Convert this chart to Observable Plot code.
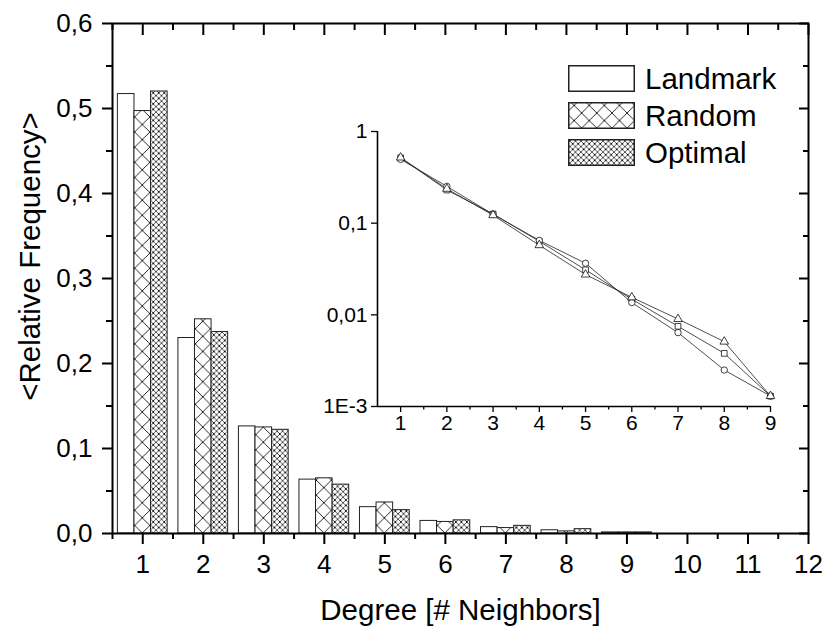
<!DOCTYPE html>
<html>
<head>
<meta charset="utf-8">
<script src="https://cdn.jsdelivr.net/npm/d3@7"></script>
<script src="https://cdn.jsdelivr.net/npm/@observablehq/plot@0.6"></script>
<style>
  html, body { margin: 0; padding: 0; background: #fff; }
  #wrap { position: relative; width: 826px; height: 629px; font-family: "Liberation Sans", Arial, sans-serif; color: #000; }
  #inset { position: absolute; left: 316px; top: 121px; }
  #legend { position: absolute; left: 568px; top: 60px; }
  .lg-row { display: flex; align-items: center; height: 37px; }
  .lg-row svg { display: block; }
  .lg-row span { margin-left: 10px; font-size: 29.5px; line-height: 30px; }
</style>
</head>
<body>
<div id="wrap"></div>
<script>
// ---- data ----
const degrees = [1, 2, 3, 4, 5, 6, 7, 8, 9];
const landmark = [0.517, 0.230, 0.126, 0.0634, 0.031, 0.0148, 0.0075, 0.0038, 0.0013];
const random   = [0.497, 0.252, 0.1248, 0.0649, 0.0365, 0.0136, 0.0064, 0.0025, 0.0013];
const optimal  = [0.520, 0.237, 0.122, 0.0575, 0.0275, 0.0155, 0.0090, 0.0051, 0.0013];
const seriesNames = ["Landmark", "Random", "Optimal"];
const xTicks = [1, 2, 3, 4, 5, 6, 7, 8, 9, 10, 11, 12];
const xMinorTicks = [0.5, 1.5, 2.5, 3.5, 4.5, 5.5, 6.5, 7.5, 8.5, 9.5, 10.5, 11.5];
const yTicks = [0, 0.1, 0.2, 0.3, 0.4, 0.5, 0.6];
const yMinorTicks = [0.05, 0.15, 0.25, 0.35, 0.45, 0.55];
const insetXTicks = [1, 2, 3, 4, 5, 6, 7, 8, 9];
const insetXMinor = [1.5, 2.5, 3.5, 4.5, 5.5, 6.5, 7.5, 8.5];
const insetYTicks = [1, 0.1, 0.01, 0.001];
const insetYLabels = ["1", "0,1", "0,01", "1E-3"];
const xLabel = "Degree [# Neighbors]";
const yLabel = "<Relative Frequency>";

// ---- derived table ----
const values = [landmark, random, optimal];
const rows = seriesNames.flatMap((s, k) => degrees.map((d, i) => ({degree: d, value: values[k][i], series: s, k})));
const barWidth = 0.274;
const fills = {Landmark: "white", Random: "url(#pat-random)", Optimal: "url(#pat-optimal)"};
const symbols = {Landmark: "square", Random: "circle", Optimal: "triangle"};
const font = "Liberation Sans, Arial, sans-serif";
const fmt1 = d => d.toFixed(1).replace(".", ",");

const wrap = document.getElementById("wrap");

const bars = seriesNames.map((s, k) => Plot.rectY(rows.filter(r => r.series === s), {
  x1: d => d.degree + (d.k - 1.5) * barWidth,
  x2: d => d.degree + (d.k - 0.5) * barWidth,
  y: "value",
  fill: fills[s],
  stroke: "#222",
  strokeWidth: 1
}));

const main = Plot.plot({
  width: 826, height: 629,
  marginLeft: 112, marginRight: 18, marginTop: 23, marginBottom: 96,
  x: {domain: [0.5, 12]},
  y: {domain: [0, 0.6]},
  style: {fontFamily: font, fontSize: "26px", color: "#000", background: "#fff", overflow: "visible"},
  marks: [
    ...bars,
    Plot.axisX(xTicks, {anchor: "bottom", tickSize: 11, tickPadding: 10, strokeWidth: 2, tickFormat: d => String(d), fontSize: 26, label: null}),
    Plot.axisX(xMinorTicks, {anchor: "bottom", tickSize: 6, strokeWidth: 2, fill: "none", label: null}),
    Plot.axisX(xTicks, {anchor: "top", tickSize: 11, dy: 11, strokeWidth: 2, fill: "none", label: null}),
    Plot.axisX(xMinorTicks, {anchor: "top", tickSize: 6, dy: 6, strokeWidth: 2, fill: "none", label: null}),
    Plot.axisY(yTicks, {anchor: "left", tickSize: 10, tickPadding: 10, strokeWidth: 2, tickFormat: fmt1, fontSize: 26, label: null}),
    Plot.axisY(yMinorTicks, {anchor: "left", tickSize: 6, strokeWidth: 2, fill: "none", label: null}),
    Plot.axisY(yTicks, {anchor: "right", tickSize: 10, dx: -10, strokeWidth: 2, fill: "none", label: null}),
    Plot.axisY(yMinorTicks, {anchor: "right", tickSize: 6, dx: -6, strokeWidth: 2, fill: "none", label: null}),
    Plot.frame({stroke: "#000", strokeWidth: 2}),
    Plot.text([xLabel], {frameAnchor: "bottom", dy: 86, fontSize: 29.5, text: d => d, fill: "#000"}),
    Plot.text([yLabel], {frameAnchor: "left", textAnchor: "middle", dx: -82, dy: -22, rotate: -90, fontSize: 29.5, text: d => d, fill: "#000"})
  ]
});
wrap.appendChild(main);

// ---- hatch patterns aligned to the bar groups ----
const xs = main.scale("x");
const ys = main.scale("y");
const px1 = xs.apply(1), pxStep = xs.apply(2) - xs.apply(1);
const dR = pxStep / 4, dO = pxStep / 11;
const y0 = ys.apply(0);
const defs = d3.select(main).insert("defs", ":first-child");
function hatch(id, d, sw, dots) {
  const p = defs.append("pattern").attr("id", id).attr("patternUnits", "userSpaceOnUse")
    .attr("x", px1 - d / 2).attr("y", y0 - d / 2).attr("width", d).attr("height", d);
  p.append("rect").attr("width", d).attr("height", d).attr("fill", "#fff");
  p.append("path").attr("d", `M0,0L${d},${d}M${d},0L0,${d}`).attr("stroke", "#111").attr("stroke-width", sw).attr("fill", "none");
  if (dots) p.append("circle").attr("cx", d / 2).attr("cy", d / 2).attr("r", dots).attr("fill", "#000");
}
hatch("pat-random", dR, 0.9, 0);
hatch("pat-optimal", dO, 0.7, 0.9);

// ---- legend ----
const legend = document.createElement("div");
legend.id = "legend";
seriesNames.forEach(s => {
  const row = document.createElement("div");
  row.className = "lg-row";
  const sw = d3.create("svg").attr("width", 67).attr("height", 27);
  sw.append("rect").attr("x", 0.75).attr("y", 0.75).attr("width", 65.5).attr("height", 25.5)
    .attr("fill", fills[s]).attr("stroke", "#222").attr("stroke-width", 1.5);
  row.appendChild(sw.node());
  const t = document.createElement("span");
  t.textContent = s;
  row.appendChild(t);
  legend.appendChild(row);
});
wrap.appendChild(legend);

// ---- inset (log scale) ----
const inset = Plot.plot({
  width: 470, height: 316,
  marginLeft: 61, marginRight: 16, marginTop: 10, marginBottom: 31,
  x: {domain: [0.5, 9]},
  y: {type: "log", domain: [0.001, 1]},
  style: {fontFamily: font, fontSize: "21px", color: "#000", background: "transparent", overflow: "visible"},
  marks: [
    Plot.axisX(insetXTicks, {anchor: "bottom", tickSize: 6, tickPadding: 3, strokeWidth: 1.3, tickFormat: d => String(d), fontSize: 21, label: null}),
    Plot.axisX(insetXMinor, {anchor: "bottom", tickSize: 3.5, strokeWidth: 1.3, fill: "none", label: null}),
    Plot.axisY(insetYTicks, {anchor: "left", tickSize: 6, tickPadding: 4, strokeWidth: 1.3, tickFormat: d => insetYLabels[insetYTicks.indexOf(d)], fontSize: 21, label: null}),
    Plot.ruleY([0.001], {stroke: "#000", strokeWidth: 1.6}),
    Plot.ruleX([0.5], {stroke: "#000", strokeWidth: 1.6}),
    Plot.line(rows, {x: "degree", y: "value", z: "series", stroke: "#222", strokeWidth: 0.8}),
    Plot.dot(rows, {x: "degree", y: "value", symbol: d => symbols[d.series], r: 3.2, fill: "#fff", stroke: "#111", strokeWidth: 0.8})
  ]
});
inset.id = "inset";
wrap.appendChild(inset);
</script>
</body>
</html>
